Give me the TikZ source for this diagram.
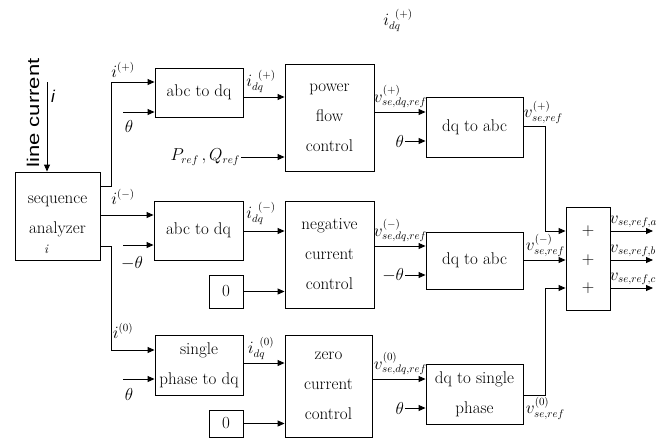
\documentclass[tikz,border=0pt]{standalone}
\usepackage{fontspec}
\newfontfamily\sansf{Liberation Sans}
\usetikzlibrary{arrows.meta}

\begin{document}
\begin{tikzpicture}[x=1pt, y=-1pt, line width=0.9pt,
  blk/.style={draw, rectangle, align=center, inner sep=1pt, font=\fontsize{17}{30}\selectfont},
  lbl/.style={inner sep=0.5pt, font=\fontsize{16}{18}\selectfont},
  arr/.style={-{Triangle[length=7pt,width=6pt]}}]
\useasboundingbox (0,0) rectangle (666,439);

% blocks
\node (seq) [blk, minimum width=85pt, minimum height=88pt] at (57.5,216) {sequence\\analyzer};
\node (abc1) [blk, minimum width=88pt, minimum height=49pt] at (199,92.5) {abc to dq};
\node (pfc) [blk, minimum width=89pt, minimum height=107pt] at (329.5,117.5) {power\\flow\\control};
\node (dqa1) [blk, minimum width=97pt, minimum height=60pt] at (474.5,127) {dq to abc};
\node (abc2) [blk, minimum width=89pt, minimum height=59pt] at (198.5,230.5) {abc to dq};
\node (ncc) [blk, minimum width=89pt, minimum height=107pt] at (329.5,254.5) {negative\\current\\control};
\node (zero1) [blk, minimum width=34pt, minimum height=33pt] at (226,291.5) {0};
\node (dqa2) [blk, minimum width=97pt, minimum height=57pt] at (474.5,260.5) {dq to abc};
\node (spd) [blk, minimum width=88pt, minimum height=60pt] at (199,365) {single\\phase to dq};
\node (zcc) [blk, minimum width=87pt, minimum height=102pt] at (328.5,386) {zero\\current\\control};
\node (zero2) [blk, minimum width=34pt, minimum height=27pt] at (226,423.5) {0};
\node (dqs) [blk, minimum width=97pt, minimum height=60pt] at (474.5,394) {dq to single\\phase};
\node (sum) [blk, minimum width=44pt, minimum height=103pt] at (588,258.5) {};
\node (p1) [lbl, font=\fontsize{19}{19}\selectfont] at (588,231) {$+$};
\node (p2) [lbl, font=\fontsize{19}{19}\selectfont] at (588,260) {$+$};
\node (p3) [lbl, font=\fontsize{19}{19}\selectfont] at (588,288) {$+$};

% labels
\node (lc) [rotate=90, inner sep=0pt, font=\sansf\fontsize{17}{17}\selectfont] at (33,113) {\scalebox{1.3}[1]{line current}};
\node (ilbl) [inner sep=0pt, font=\sansf\itshape\fontsize{17}{17}\selectfont] at (53,96) {i};
\node (istray) [inner sep=0pt, font=\itshape\fontsize{13}{13}\selectfont] at (46,249) {i};
\node (itop) [lbl] at (398,20) {$i_{dq}^{\;\;(+)}$};
\node (ip) [lbl] at (123,70) {$i^{(+)}$};
\node (im) [lbl] at (123,197) {$i^{(-)}$};
\node (i0) [lbl] at (123,331) {$i^{(0)}$};
\node (thl1) [lbl, font=\fontsize{18}{18}\selectfont] at (129,126) {$\theta$};
\node (thl2) [lbl, font=\fontsize{18}{18}\selectfont] at (132,263) {$-\theta$};
\node (thl3) [lbl, font=\fontsize{18}{18}\selectfont] at (129,394) {$\theta$};
\node (idp) [lbl] at (261,81) {$i_{dq}^{\;\;(+)}$};
\node (idm) [lbl] at (261,213) {$i_{dq}^{\;\;(-)}$};
\node (id0) [lbl] at (261,348) {$i_{dq}^{\;\;(0)}$};
\node (pq) [lbl, anchor=east] at (241,157) {$P_{ref}\,,Q_{ref}$};
\node (vdp) [lbl, anchor=south west] at (373,109) {$v^{(+)}_{se,dq,ref}$};
\node (vdm) [lbl, anchor=south west] at (373,243) {$v^{(-)}_{se,dq,ref}$};
\node (vd0) [lbl, anchor=south west] at (373,376) {$v^{(0)}_{se,dq,ref}$};
\node (th4) [lbl, anchor=east, font=\fontsize{18}{18}\selectfont] at (405,141) {$\theta$};
\node (th5) [lbl, anchor=east, font=\fontsize{18}{18}\selectfont] at (405,275) {$-\theta$};
\node (th6) [lbl, anchor=east, font=\fontsize{18}{18}\selectfont] at (405,408) {$\theta$};
\node (vp) [lbl, anchor=west] at (523,112) {$v^{(+)}_{se,ref}$};
\node (vm) [lbl, anchor=west] at (525,245) {$v^{(-)}_{se,ref}$};
\node (v0) [lbl, anchor=west] at (525,408) {$v^{(0)}_{se,ref}$};
\node (va) [lbl, anchor=south west] at (609,229) {$v_{se,ref,a}$};
\node (vb) [lbl, anchor=south west] at (609,258) {$v_{se,ref,b}$};
\node (vc) [lbl, anchor=south west] at (609,286) {$v_{se,ref,c}$};

% free ends
\coordinate (iin) at (47,82);
\coordinate (th1) at (123,112);
\coordinate (th2) at (123,245);
\coordinate (th3) at (123,379);
\coordinate (oa) at (653,231);
\coordinate (ob) at (653,260);
\coordinate (oc) at (653,288);

% connectors
\draw[arr] (iin) -- (iin |- seq.north);
\draw[arr] (seq.east |- 0,186) -- (111,186) |- (abc1.west |- 0,82);
\draw[arr] (th1) -- (abc1.west |- th1);
\draw[arr] (abc1.east |- 0,97) -- (pfc.west |- 0,97);
\draw[arr] (pq.east) -- (pfc.west |- pq.east);
\draw[arr] (pfc.east |- 0,112) -- (dqa1.west |- 0,112);
\draw[arr] (th4.east) -- (dqa1.west |- th4.east);
\draw[arr] (dqa1.east |- 0,126) -- (545,126) |- (sum.west |- p1);
\draw[arr] (seq.east |- 0,215) -- (abc2.west |- 0,215);
\draw[arr] (th2) -- (abc2.west |- th2);
\draw[arr] (abc2.east |- 0,231) -- (ncc.west |- 0,231);
\draw[arr] (zero1) -- (ncc.west |- zero1);
\draw[arr] (ncc.east |- 0,246) -- (dqa2.west |- 0,246);
\draw[arr] (th5.east) -- (dqa2.west |- th5.east);
\draw[arr] (dqa2.east |- p2) -- (sum.west |- p2);
\draw[arr] (seq.east |- 0,246) -- (111,246) |- (spd.west |- 0,350);
\draw[arr] (th3) -- (spd.west |- th3);
\draw[arr] (spd.east |- 0,363) -- (zcc.west |- 0,363);
\draw[arr] (zero2) -- (zcc.west |- zero2);
\draw[arr] (zcc.east |- 0,379) -- (dqs.west |- 0,379);
\draw[arr] (th6.east) -- (dqs.west |- th6.east);
\draw[arr] (dqs.east |- 0,395) -- (545,395) |- (sum.west |- p3);
\draw[arr] (sum.east |- p1) -- (oa);
\draw[arr] (sum.east |- p2) -- (ob);
\draw[arr] (sum.east |- p3) -- (oc);
\end{tikzpicture}
\end{document}
